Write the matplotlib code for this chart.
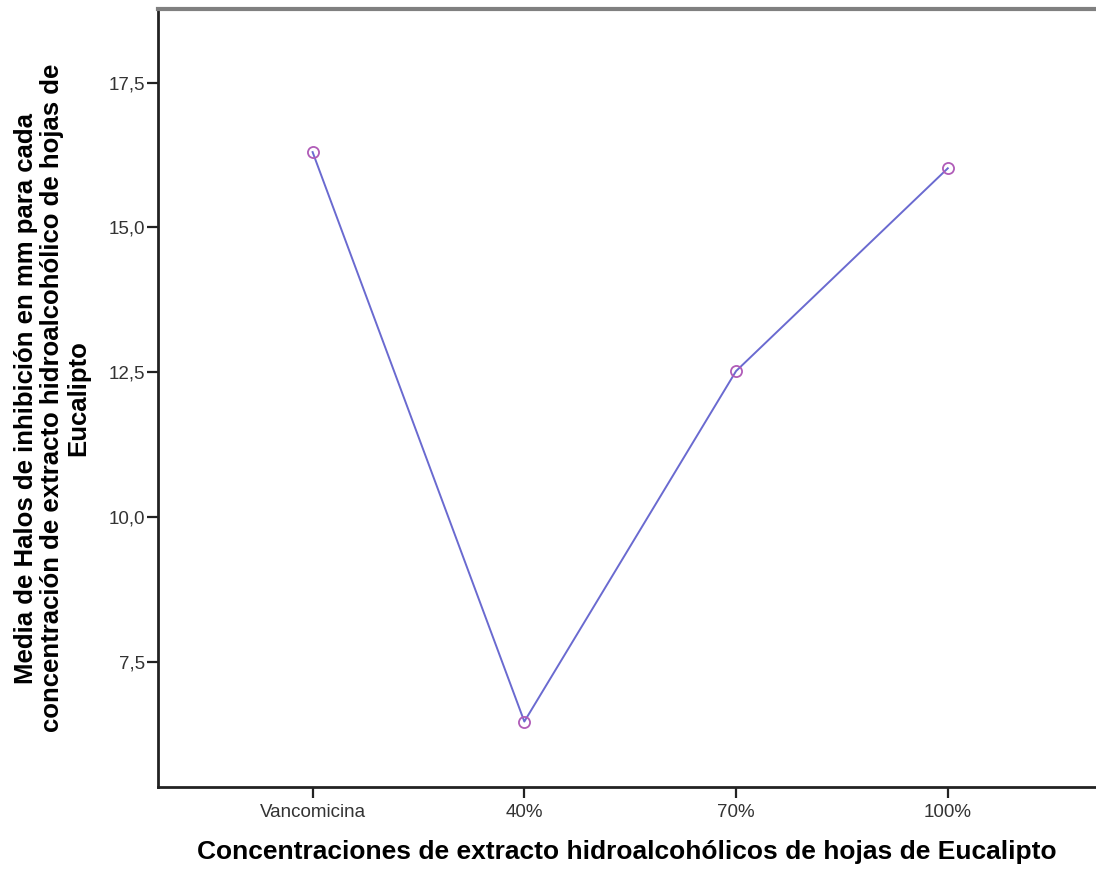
import numpy as np
import matplotlib.pyplot as plt

# data
categories = ["Vancomicina", "40%", "70%", "100%"]
means = [16.3, 6.47, 12.52, 16.02]
yticks = [7.5, 10.0, 12.5, 15.0, 17.5]
ytick_labels = ["7,5", "10,0", "12,5", "15,0", "17,5"]

plt.rcParams['font.family'] = ['Liberation Sans', 'DejaVu Sans']

fig = plt.figure(figsize=(10.96, 8.73), dpi=100)
ax = fig.add_axes([0.1442, 0.0985, 0.8558, 0.8912])

x = np.arange(len(categories))
ax.plot(x, means, color="#6a6ad0", linewidth=1.4, zorder=2)
ax.plot(x, means, "o", markersize=8, markerfacecolor="none",
        markeredgecolor="#b05cb8", markeredgewidth=1.3, zorder=3)

ax.set_xlim(-0.73, 3.7)
ax.set_ylim(5.34, 18.77)
ax.set_xticks(x)
ax.set_xticklabels(categories)
ax.set_yticks(yticks)
ax.set_yticklabels(ytick_labels)

ax.spines['right'].set_visible(False)
ax.spines['top'].set_color("#808080")
ax.spines['top'].set_linewidth(3)
ax.spines['left'].set_color("#222222")
ax.spines['left'].set_linewidth(2)
ax.spines['bottom'].set_color("#222222")
ax.spines['bottom'].set_linewidth(2)

ax.tick_params(axis='y', direction='out', length=8, width=1.6, color="#222222",
               labelsize=13.5, labelcolor="#333333", pad=1.5)
ax.tick_params(axis='x', direction='out', length=8, width=1.6, color="#222222",
               labelsize=13.5, labelcolor="#333333", pad=4)

ax.set_xlabel("Concentraciones de extracto hidroalcohólicos de hojas de Eucalipto",
              fontsize=19, fontweight='bold', labelpad=14)
ax.set_ylabel("Media de Halos de inhibición en mm para cada\n"
              "concentración de extracto hidroalcohólico de hojas de\n"
              "Eucalipto", fontsize=18.5, fontweight='bold', labelpad=13,
              linespacing=1.1)

fig.savefig("out.png", dpi=100)
